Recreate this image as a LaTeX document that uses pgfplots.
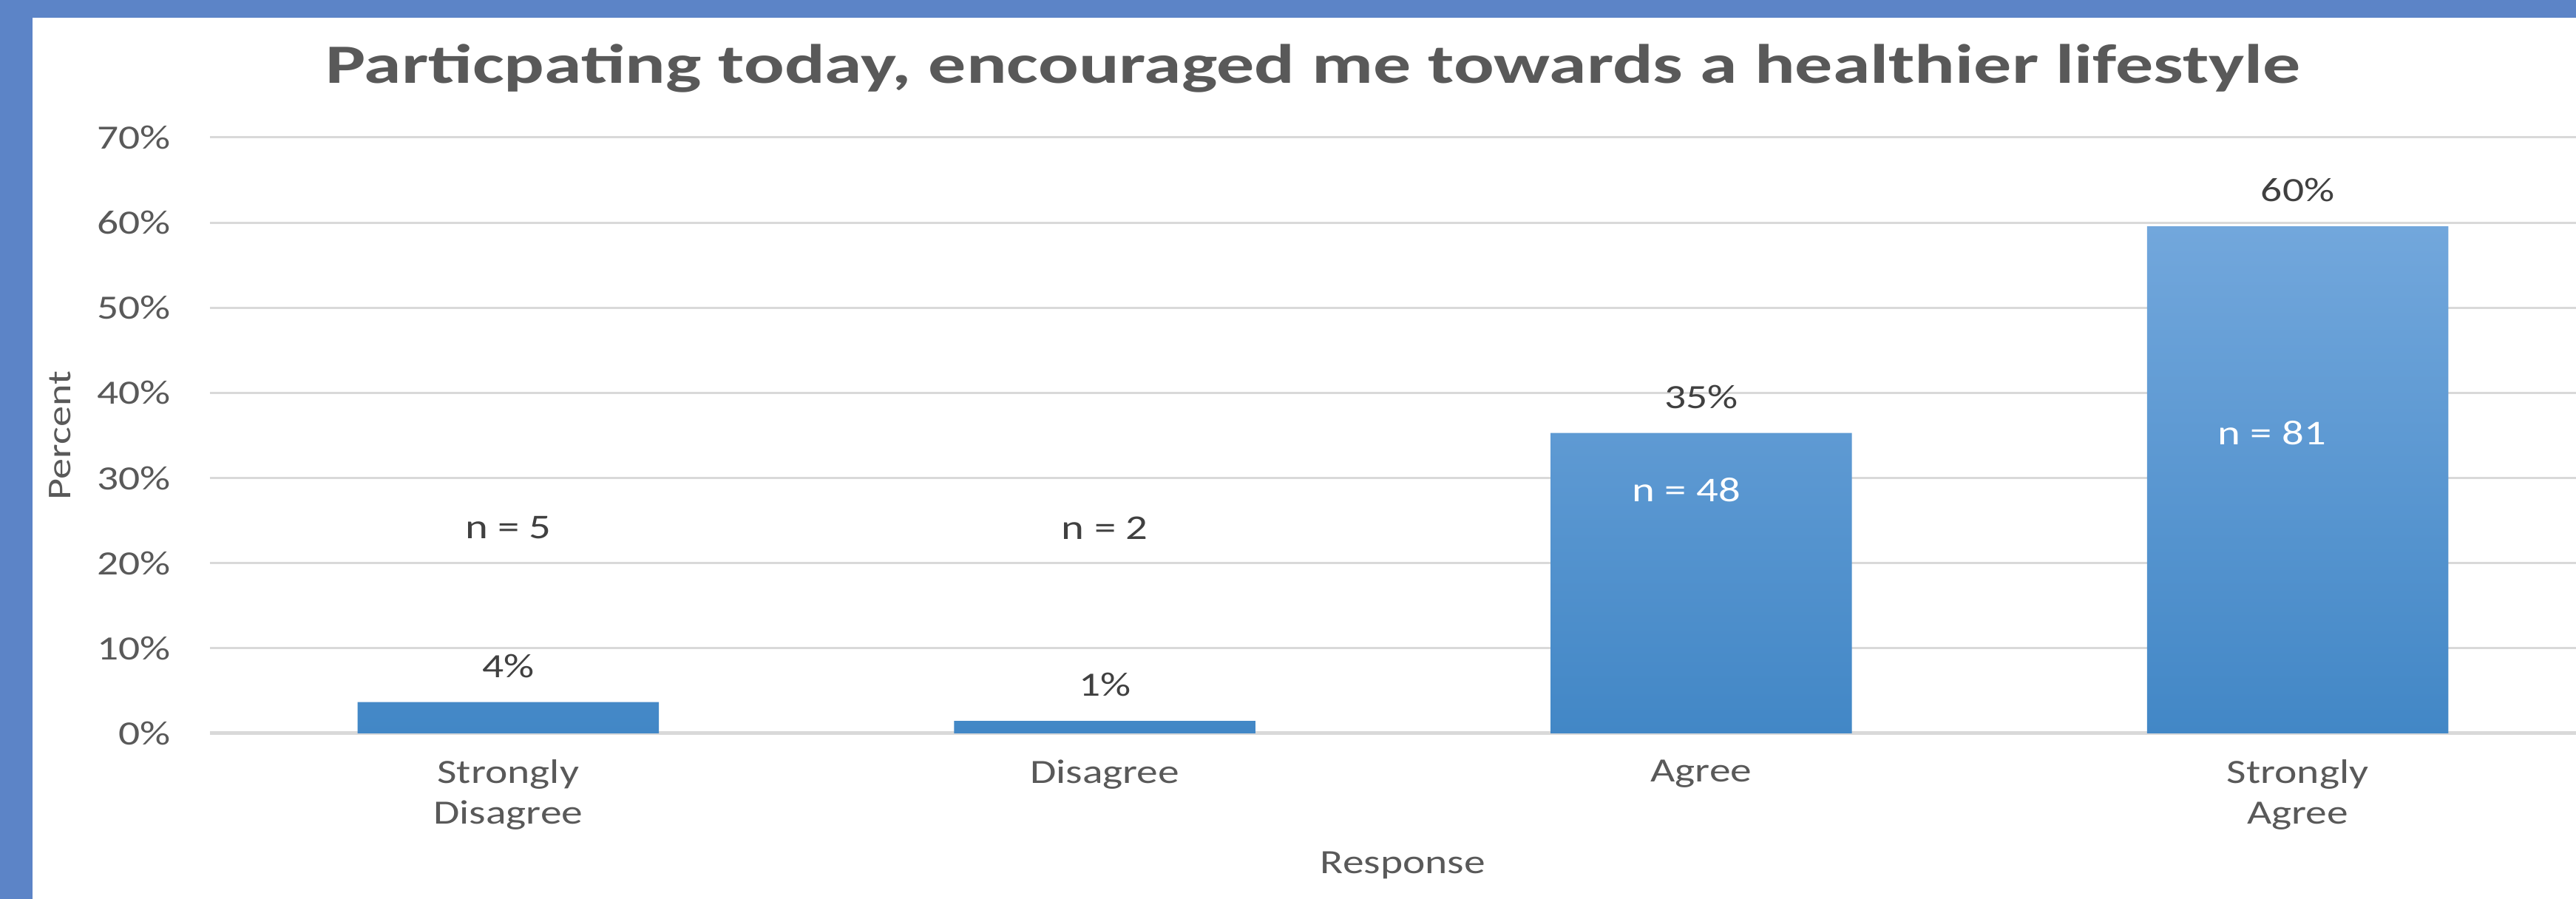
\documentclass[border=0pt]{standalone}
\usepackage{pgfplots}
\pgfplotsset{compat=1.18}
\usepackage{fontspec}
\setmainfont[FakeStretch=1.25]{Carlito}
\newfontfamily\titlefont[FakeStretch=1.36]{Carlito}
\definecolor{frameblue}{RGB}{92,132,199}
\definecolor{gridgray}{RGB}{217,217,217}
\definecolor{txtgray}{RGB}{89,89,89}
\definecolor{lblgray}{RGB}{64,64,64}
\definecolor{barTop}{RGB}{114,167,220}
\definecolor{barBot}{RGB}{66,135,198}
\begin{document}
\begin{tikzpicture}
\path[use as bounding box] (0,0) rectangle (696.8pt,243.2pt);
\clip (0,0) rectangle (696.8pt,243.2pt);
\fill[white] (0,0) rectangle (696.8pt,243.2pt);
\begin{axis}[
  at={(56.8pt,44.8pt)}, anchor=south west,
  scale only axis, width=645.4pt, height=161.2pt,
  xmin=-0.5, xmax=3.5, ymin=0, ymax=70,
  xtick={0,1,2,3},
  xticklabels={{Strongly\\Disagree},Disagree,Agree,{Strongly\\Agree}},
  ytick={0,10,...,70},
  yticklabel={\pgfmathprintnumber{\tick}\%},
  /pgf/number format/assume math mode=true,
  axis line style={draw=none},
  major tick length=0pt,
  ymajorgrids, grid style={gridgray, line width=0.6pt},
  extra y ticks={0}, extra y tick labels={},
  extra y tick style={grid style={gridgray, line width=1pt}},
  tick label style={font=\fontsize{9.2}{11}\selectfont, text=txtgray},
  yticklabel style={anchor=east, inner sep=0pt, xshift=-10.4pt},
  xticklabel style={anchor=north, inner sep=0pt, yshift=-7pt, align=center},
  title={Particpating today, encouraged me towards a healthier lifestyle},
  title style={at={(axis description cs:0.4624,1.0993)}, anchor=base, yshift=-7.4pt,
    font=\titlefont\bfseries\fontsize{15}{18}\selectfont, text=txtgray},
  xlabel={Response},
  xlabel style={at={(axis description cs:0.5,-0.2357)}, anchor=base,
    font=\fontsize{9.2}{11}\selectfont, text=txtgray},
  ylabel={Percent},
  ylabel style={at={(axis description cs:-0.0629,0.5)}, anchor=center, rotate=0,
    font=\fontsize{9}{11}\selectfont, text=txtgray},
  clip=false,
]
\addplot[ybar, bar width=0.505, draw=none, top color=barTop, bottom color=barBot,
  nodes near coords, point meta=explicit symbolic,
  every node near coord/.style={anchor=base, yshift=6.7pt, inner sep=0pt,
    font=\fontsize{9.2}{11}\selectfont, text=lblgray}]
  coordinates {(0,3.68)[4\%] (1,1.47)[1\%] (2,35.29)[35\%] (3,59.56)[60\%]};
\addplot[draw=none, mark=none, nodes near coords, point meta=explicit symbolic,
  every node near coord/.style={anchor=center, inner sep=0pt,
    font=\fontsize{9.4}{11}\selectfont, text=lblgray}]
  coordinates {(0,24.2)[n = 5] (1,24.1)[n = 2]};
\addplot[draw=none, mark=none, nodes near coords, point meta=explicit symbolic,
  every node near coord/.style={anchor=center, inner sep=0pt,
    font=\fontsize{9.4}{11}\selectfont, text=white}]
  coordinates {(1.975,28.6)[n = 48] (2.957,35.3)[n = 81]};
\end{axis}
\fill[frameblue] (0,0) rectangle (8.8pt,243.2pt);
\fill[frameblue] (0,238.4pt) rectangle (696.8pt,243.2pt);
\end{tikzpicture}
\end{document}
